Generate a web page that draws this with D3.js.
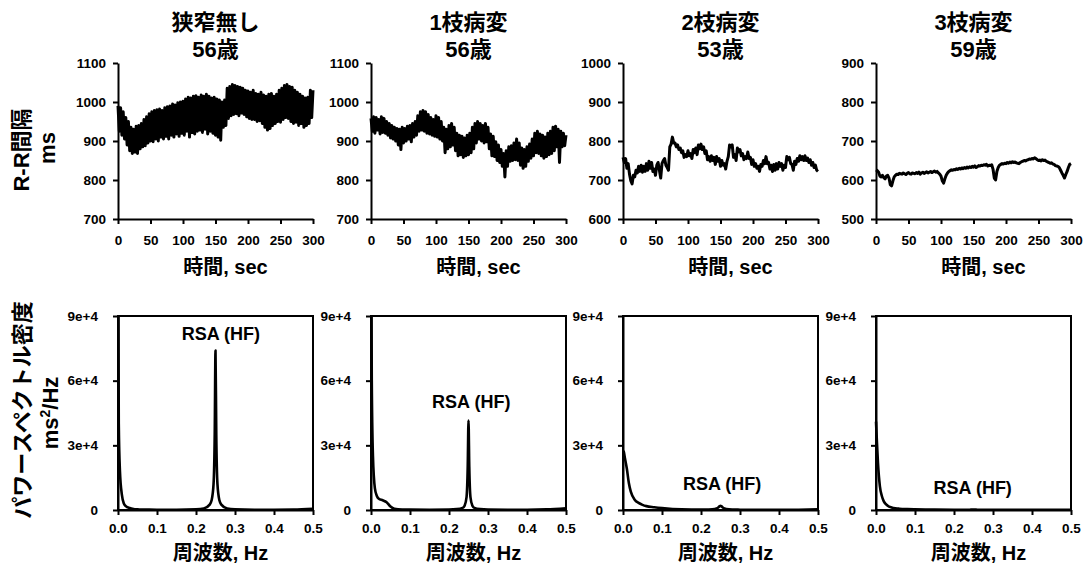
<!DOCTYPE html>
<html><head><meta charset="utf-8">
<script src="https://cdn.jsdelivr.net/npm/d3@7"></script>
<style>
body{margin:0;background:#fff}
svg{display:block}
.tk text{font-family:"Liberation Sans",Arial,sans-serif;font-weight:bold;font-size:13.5px;fill:#000}
.tkn text{font-family:"Liberation Sans Narrow","Liberation Sans",Arial,sans-serif;font-weight:bold;font-size:13.5px;fill:#000}
.ttl{font-family:"Liberation Sans","Noto Sans CJK JP",sans-serif;font-weight:bold;fill:#000}
</style>
</head><body>
<svg id="c" width="1090" height="568"></svg>
<script>
// ---------- DATA ----------
const groupNames = ["狭窄無し", "1枝病変", "2枝病変", "3枝病変"];
const ages = ["56歳", "56歳", "53歳", "59歳"];
const timeTicks = [0, 50, 100, 150, 200, 250, 300];
const rrDomains = [[700, 1100], [700, 1100], [600, 1000], [500, 900]];
// R-R interval samples, one every 2 s from 0 to 300 s
const rrTimes = d3.range(0, 301, 2);
const rr0 = [
 990,925,985,915,975,905,960,890,950,875,
 935,868,930,872,938,868,940,880,945,885,
 955,888,962,895,970,900,975,898,978,905,
 980,900,982,910,978,905,985,912,988,905,
 990,915,995,910,992,918,998,912,1000,920,
 1002,915,1008,925,1012,910,1010,922,1015,918,
 1016,925,1012,928,1018,922,1015,930,1020,918,
 1015,925,1010,920,1012,915,1008,910,1005,902,
 1000,935,1005,940,1035,958,1040,965,1045,968,
 1042,970,1040,965,1038,972,1035,968,1030,962,
 1028,958,1025,955,1030,955,1022,950,1020,952,
 1025,945,1018,935,1015,928,1020,932,1022,940,
 1015,945,1020,950,1030,948,1035,955,1042,960,
 1045,958,1040,950,1038,945,1030,948,1025,940,
 1020,945,1015,935,1010,940,1012,945,1030,960,
 1030];
const rr1 = [
 958,925,962,920,960,928,955,918,962,922,
 958,920,950,915,945,908,940,905,935,900,
 932,890,930,878,935,895,932,900,938,905,
 940,898,945,910,950,915,965,925,975,928,
 978,925,975,920,968,918,960,915,955,912,
 965,910,960,905,950,900,935,870,930,880,
 940,885,945,890,935,875,920,862,915,865,
 912,858,908,862,915,865,920,870,935,880,
 945,895,950,905,945,900,940,895,945,898,
 935,880,918,862,912,860,898,850,890,845,
 878,835,868,808,875,835,885,848,888,850,
 895,852,905,850,895,838,882,830,878,835,
 885,848,892,856,905,862,920,870,925,868,
 918,862,915,856,910,860,920,865,925,868,
 935,875,938,885,930,845,925,885,920,888,
 915];
const rr2 = [
 758,745,755,730,742,715,698,690,712,708,
 725,718,735,722,738,720,735,722,742,725,
 748,730,745,722,728,712,738,745,725,705,
 742,750,755,738,732,725,785,792,810,795,
 795,785,790,778,782,770,775,758,765,760,
 775,762,768,755,778,770,782,765,790,780,
 792,778,785,768,775,752,760,748,762,750,
 758,740,760,748,755,735,750,738,742,728,
 748,760,790,785,790,758,765,750,782,772,
 778,762,768,752,760,755,772,755,758,740,
 752,735,742,730,735,722,740,735,750,742,
 760,742,745,728,738,722,740,725,742,728,
 745,735,742,725,738,732,760,752,758,742,
 740,725,748,740,755,748,762,752,760,750,
 762,750,756,745,752,738,745,732,738,725,
 722];
const rr3 = [
 626,624,620,610,608,612,606,603,610,612,
 605,588,585,598,608,612,615,614,617,616,
 615,618,616,614,617,619,616,615,618,617,
 616,619,617,620,615,618,620,617,619,621,
 618,620,622,619,621,623,620,622,618,615,
 610,598,592,603,612,618,622,624,626,625,
 627,626,629,627,630,628,631,629,632,630,
 633,631,634,632,635,633,636,632,634,637,
 636,638,637,639,638,640,636,638,637,639,
 628,605,600,622,632,638,640,642,641,643,
 642,645,643,646,644,647,645,646,644,643,
 642,645,647,648,650,649,651,652,654,653,
 655,654,657,655,652,650,651,649,652,650,
 651,648,646,645,643,644,641,640,637,636,
 635,632,625,618,612,605,614,622,632,640,
 642];
const rrSeries = [rr0, rr1, rr2, rr3];

const freqTicks = [0, 0.1, 0.2, 0.3, 0.4, 0.5];
const psdTicks = [0, 30000, 60000, 90000];
const psdTickLabels = ["0", "3e+4", "6e+4", "9e+4"];
const freqs = [0,0.002,0.005,0.01,0.015,0.02,0.03,0.04,0.05,0.06,0.08,0.1,0.15,0.2,0.22,0.235,0.24,0.245,0.248,0.25,0.252,0.255,0.26,0.265,0.28,0.3,0.35,0.4,0.45,0.5];
const psd0 = [150000,40000,18000,7000,3000,1800,900,500,350,250,180,150,150,300,700,2500,4500,12000,35000,74000,35000,12000,4500,2500,700,300,150,150,200,600];
const psd1 = [150000,60000,25000,10000,6500,5200,4500,3600,1600,600,250,200,150,200,400,1000,2000,6000,20000,41500,20000,6000,2000,1000,400,200,150,150,300,800];
const psd2 = [27500,27000,24000,19000,12500,8500,4800,3300,2400,1800,1300,900,300,200,250,400,700,1300,1800,2000,1800,1300,700,400,200,150,100,100,150,300];
const psd3 = [41000,33000,22000,11000,6500,4000,2000,1200,800,600,400,300,200,150,150,150,150,180,200,220,200,180,150,150,150,120,100,100,100,150];
const psdSeries = [psd0, psd1, psd2, psd3];
const rsaLabel = "RSA (HF)";
const rsaLabelF = [0.264, 0.257, 0.254, 0.248];
const rsaLabelV = [78900, 47300, 9300, 7400];

// ---------- LAYOUT ----------
const svg = d3.select("#c");
const lefts = [118, 371, 623, 876];
const W = 195;
const topY = [63, 219];
const botY = [316, 510];
const lw = 2;

lefts.forEach((L, i) => {
  const cx = L + W / 2;
  // titles
  svg.append("text").attr("class", "ttl").attr("x", cx).attr("y", 30)
    .attr("text-anchor", "middle").attr("font-size", 22).text(groupNames[i]);
  svg.append("text").attr("class", "ttl").attr("x", cx).attr("y", 57)
    .attr("text-anchor", "middle").attr("font-size", 22).text(ages[i]);

  // --- RR panel ---
  const x = d3.scaleLinear().domain([0, 300]).range([L, L + W]);
  const y = d3.scaleLinear().domain(rrDomains[i]).range([topY[1], topY[0]]);
  const gx = svg.append("g").attr("class", "tk").attr("transform", `translate(0,${topY[1]})`)
    .call(d3.axisBottom(x).tickValues(timeTicks).tickSize(5).tickSizeOuter(0).tickPadding(11).tickFormat(d3.format("d")));
  const gy = svg.append("g").attr("class", "tk").attr("transform", `translate(${L},0)`)
    .call(d3.axisLeft(y).ticks(5).tickSize(5).tickSizeOuter(0).tickPadding(7).tickFormat(d3.format("d")));
  [gx, gy].forEach(g => { g.selectAll("path,line").attr("stroke", "#000").attr("stroke-width", lw); });

  const line = d3.line().x((d, k) => x(rrTimes[k])).y(d => y(d));
  svg.append("path").datum(rrSeries[i]).attr("d", line)
    .attr("fill", "none").attr("stroke", "#000").attr("stroke-width", 3).attr("stroke-linejoin", "round");

  svg.append("text").attr("class", "ttl").attr("x", cx + 10).attr("y", 274)
    .attr("text-anchor", "middle").attr("font-size", 20).text("時間, sec");

  // --- PSD panel ---
  const fx = d3.scaleLinear().domain([0, 0.5]).range([L, L + W]);
  const py = d3.scaleLinear().domain([0, 90000]).range([botY[1], botY[0]]);
  const clipId = "clip" + i;
  svg.append("clipPath").attr("id", clipId).append("rect")
    .attr("x", L - 2).attr("y", botY[0]).attr("width", W + 4).attr("height", botY[1] - botY[0] + 2);
  const pline = d3.line().x((d, k) => fx(freqs[k])).y(d => py(d)).curve(d3.curveMonotoneX);
  svg.append("path").datum(psdSeries[i]).attr("d", pline).attr("clip-path", `url(#${clipId})`)
    .attr("fill", "none").attr("stroke", "#000").attr("stroke-width", 2.6).attr("stroke-linejoin", "round");

  svg.append("rect").attr("x", L).attr("y", botY[0]).attr("width", W).attr("height", botY[1] - botY[0])
    .attr("fill", "none").attr("stroke", "#000").attr("stroke-width", lw);
  const fgx = svg.append("g").attr("class", "tkn").attr("transform", `translate(0,${botY[1]})`)
    .call(d3.axisBottom(fx).tickValues(freqTicks).tickSize(5).tickSizeOuter(0).tickPadding(8).tickFormat(d3.format(".1f")));
  const fgy = svg.append("g").attr("class", "tkn").attr("transform", `translate(${L},0)`)
    .call(d3.axisLeft(py).tickValues(psdTicks).tickSize(5).tickSizeOuter(0).tickPadding(15).tickFormat((d, k) => psdTickLabels[k]));
  [fgx, fgy].forEach(g => { g.selectAll("path,line").attr("stroke", "#000").attr("stroke-width", lw); });

  svg.append("text").attr("class", "ttl").attr("x", fx(rsaLabelF[i])).attr("y", py(rsaLabelV[i]))
    .attr("text-anchor", "middle").attr("font-size", 18).text(rsaLabel);

  svg.append("text").attr("class", "ttl").attr("x", cx + 5).attr("y", 560)
    .attr("text-anchor", "middle").attr("font-size", 20).text("周波数, Hz");
});

// y titles
function vtext(x, y, size, txt) {
  return svg.append("text").attr("class", "ttl").attr("transform", `translate(${x},${y}) rotate(-90)`)
    .attr("text-anchor", "middle").attr("font-size", size).text(txt);
}
vtext(29, 150, 22, "R-R間隔");
vtext(55, 148, 22, "ms");
vtext(30, 410, 22, "パワースペクトル密度");
const t2 = vtext(58, 413, 22, "");
t2.append("tspan").text("ms");
t2.append("tspan").attr("font-size", 14).attr("dy", -8).text("2");
t2.append("tspan").attr("dy", 8).text("/Hz");
</script>
</body></html>
